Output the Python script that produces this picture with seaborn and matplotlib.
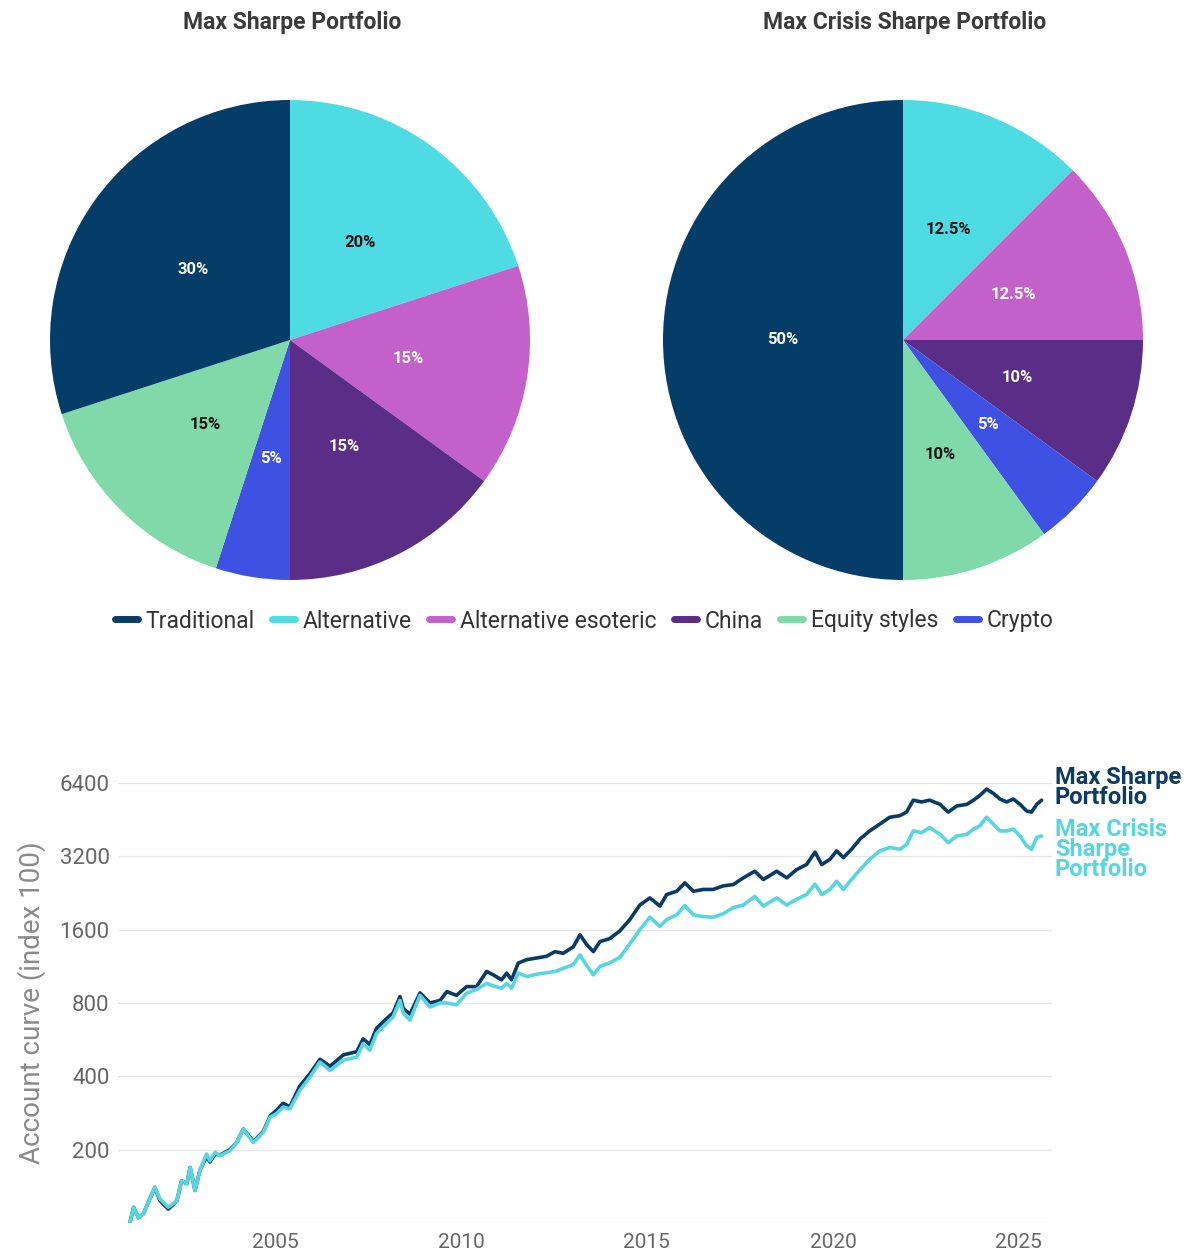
import matplotlib.pyplot as plt
import seaborn as sns
import pandas as pd
from matplotlib.lines import Line2D

# ── pie data (clockwise from 12 o'clock) ──
pie_cats = ['Alternative', 'Alternative esoteric', 'China', 'Crypto', 'Equity styles', 'Traditional']
max_sharpe_w = [20, 15, 15, 5, 15, 30]
crisis_sharpe_w = [12.5, 12.5, 10, 5, 10, 50]
legend_order = ['Traditional', 'Alternative', 'Alternative esoteric', 'China', 'Equity styles', 'Crypto']

colors = {
    'Traditional': '#053d69',
    'Alternative': '#4fdbe4',
    'Alternative esoteric': '#c460c9',
    'China': '#5a2d87',
    'Equity styles': '#80d9a8',
    'Crypto': '#3f51e3',
}
label_col = {
    'Traditional': 'white', 'Alternative': '#111111', 'Alternative esoteric': 'white',
    'China': 'white', 'Equity styles': '#111111', 'Crypto': 'white',
}

# ── account curves (index 100) ──
years = [2001.1, 2001.2, 2001.33, 2001.46, 2001.77, 2001.9, 2002.13, 2002.36, 2002.49, 2002.63,
         2002.72, 2002.85, 2002.98, 2003.16, 2003.25, 2003.39, 2003.52, 2003.79, 2003.97, 2004.15,
         2004.42, 2004.69, 2004.87, 2005.04, 2005.22, 2005.4, 2005.67, 2005.94, 2006.21, 2006.48,
         2006.84, 2007.2, 2007.37, 2007.55, 2007.73, 2008.0, 2008.18, 2008.36, 2008.45, 2008.63,
         2008.9, 2009.17, 2009.44, 2009.62, 2009.88, 2010.15, 2010.42, 2010.69, 2010.87, 2011.09,
         2011.23, 2011.36, 2011.54, 2011.77, 2012.03, 2012.3, 2012.53, 2012.75, 2013.02, 2013.2,
         2013.38, 2013.56, 2013.74, 2014.0, 2014.27, 2014.54, 2014.81, 2015.08, 2015.35, 2015.53,
         2015.8, 2016.02, 2016.25, 2016.51, 2016.78, 2017.05, 2017.32, 2017.59, 2017.9, 2018.13,
         2018.49, 2018.76, 2019.02, 2019.29, 2019.52, 2019.7, 2019.92, 2020.1, 2020.28, 2020.5,
         2020.73, 2020.99, 2021.26, 2021.53, 2021.8, 2021.98, 2022.16, 2022.38, 2022.6, 2022.88,
         2023.1, 2023.33, 2023.6, 2023.78, 2023.95, 2024.13, 2024.31, 2024.49, 2024.67, 2024.85,
         2025.03, 2025.21, 2025.34, 2025.48, 2025.61]

max_sharpe = [100, 116, 105, 109, 140, 124, 114, 123, 149, 145,
              169, 136, 164, 188, 178, 192, 190, 200, 214, 243,
              216, 238, 275, 290, 310, 300, 365, 410, 470, 440,
              490, 505, 570, 540, 630, 690, 730, 850, 760, 720,
              880, 800, 820, 891, 860, 934, 934, 1078, 1044, 996,
              1061, 996, 1167, 1205, 1224, 1244, 1300, 1280, 1360, 1525,
              1390, 1300, 1430, 1470, 1580, 1760, 2020, 2160, 2000, 2230,
              2300, 2490, 2300, 2340, 2340, 2420, 2450, 2610, 2780, 2570,
              2780, 2610, 2820, 2960, 3330, 2960, 3110, 3370, 3160, 3420,
              3770, 4070, 4340, 4630, 4700, 4860, 5440, 5350, 5440, 5230,
              4860, 5150, 5230, 5440, 5690, 6040, 5810, 5500, 5350, 5500,
              5230, 4910, 4860, 5230, 5440]

crisis_sharpe = [100, 116, 105, 109, 140, 126, 116, 123, 149, 145,
                 169, 136, 164, 192, 180, 195, 189, 198, 214, 243,
                 214, 236, 272, 281, 299, 294, 350, 397, 458, 423,
                 466, 480, 546, 512, 600, 660, 703, 820, 727, 680,
                 860, 770, 800, 800, 786, 877, 910, 963, 940, 920,
                 963, 920, 1061, 1027, 1050, 1065, 1078, 1110, 1150, 1260,
                 1140, 1044, 1130, 1170, 1230, 1400, 1600, 1800, 1650, 1760,
                 1840, 2010, 1840, 1810, 1800, 1860, 1970, 2020, 2190, 2000,
                 2160, 2020, 2130, 2230, 2460, 2230, 2340, 2530, 2340, 2570,
                 2820, 3110, 3370, 3480, 3420, 3580, 4070, 4000, 4200, 3940,
                 3640, 3880, 3940, 4140, 4270, 4630, 4340, 4070, 4070, 4140,
                 3880, 3530, 3420, 3830, 3880]

y_ticks = [200, 400, 800, 1600, 3200, 6400]
x_ticks = [2005, 2010, 2015, 2020, 2025]

sns.set_style("white")
plt.rcParams['font.family'] = ['Roboto', 'DejaVu Sans']

W, H = 1195, 1258
fig = plt.figure(figsize=(W / 100, H / 100), dpi=100)


def fx(px):
    return px / W


def fy(py):
    return 1 - py / H


# ── pies ──
for cx, title, weights in [(290, 'Max Sharpe Portfolio', max_sharpe_w),
                           (903, 'Max Crisis Sharpe Portfolio', crisis_sharpe_w)]:
    r = 240
    ax = fig.add_axes([fx(cx - r), fy(340 + r), 2 * r / W, 2 * r / H])
    wedges, texts = ax.pie(weights, colors=[colors[c] for c in pie_cats], startangle=90,
                           counterclock=False, labels=[f'{w:g}%' for w in weights],
                           labeldistance=0.5, radius=1, wedgeprops=dict(linewidth=0))
    for t, c in zip(texts, pie_cats):
        t.set_color(label_col[c])
        t.set_fontsize(12)
        t.set_fontweight('bold')
        t.set_ha('center')
        t.set_va('center')
    ax.set_xlim(-1, 1)
    ax.set_ylim(-1, 1)
    ax.set_aspect('auto')
    fig.text(fx(cx + 2), fy(23), title, ha='center', va='center', fontsize=16.5,
             fontweight='bold', color='#3a3a3a')

handles = [Line2D([0], [0], color=colors[c], lw=5, solid_capstyle='round') for c in legend_order]
fig.legend(handles, legend_order, loc='center', bbox_to_anchor=(fx(584), fy(621)), ncol=6,
           frameon=False, fontsize=16.5, handlelength=1.0, handletextpad=0.35,
           columnspacing=0.75, labelcolor='#333333')

# ── account curve ──
df = pd.DataFrame({'year': years, 'Max Sharpe Portfolio': max_sharpe,
                   'Max Crisis Sharpe Portfolio': crisis_sharpe})
ax = fig.add_axes([fx(118), fy(1223), (1052 - 118) / W, (1223 - 783) / H])
sns.lineplot(data=df, x='year', y='Max Sharpe Portfolio', color='#0a3a66', lw=2.6, ax=ax)
sns.lineplot(data=df, x='year', y='Max Crisis Sharpe Portfolio', color='#55d6e0', lw=2.6, ax=ax)
ax.set_yscale('log', base=2)
ax.set_ylim(100, 6400)
ax.set_xlim(2000.78, 2025.89)
ax.set_yticks(y_ticks)
ax.set_yticklabels([str(v) for v in y_ticks])
ax.minorticks_off()
ax.set_xticks(x_ticks)
ax.set_xticklabels([str(v) for v in x_ticks])
ax.grid(axis='y', color='#e6e6e6', lw=1)
ax.axhline(100, color='#e6e6e6', lw=1, zorder=0)
for s in ax.spines.values():
    s.set_visible(False)
ax.tick_params(axis='y', length=0, labelsize=16, labelcolor='#666666', pad=6)
ax.tick_params(axis='x', length=5, color='#d8d8d8', labelsize=15, labelcolor='#666666', pad=2)
ax.set_xlabel('')
ax.set_ylabel('Account curve (index 100)', fontsize=20, color='#8a8a8a', labelpad=10)

fig.text(fx(1055), fy(766), 'Max Sharpe\nPortfolio', ha='left', va='top', fontsize=17,
         fontweight='bold', color='#0a3a66', linespacing=0.82)
fig.text(fx(1055), fy(818), 'Max Crisis\nSharpe\nPortfolio', ha='left', va='top', fontsize=17,
         fontweight='bold', color='#55d6e0', linespacing=0.82)

fig.savefig('out.png', dpi=100)
